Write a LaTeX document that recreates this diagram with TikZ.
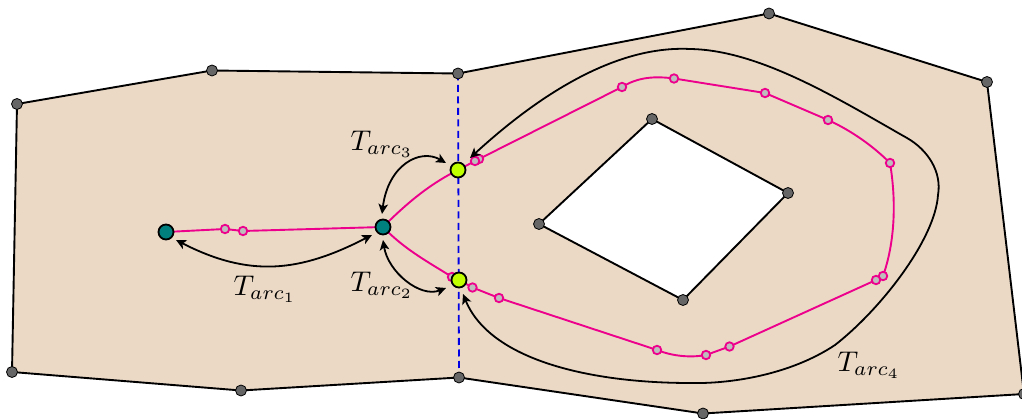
\documentclass[tikz,border=0pt]{standalone}
\usetikzlibrary{arrows.meta}
\definecolor{regionfill}{HTML}{EBD9C6}
\definecolor{vgray}{HTML}{666666}
\definecolor{arcpink}{HTML}{EC008C}
\definecolor{ptgray}{HTML}{BDBDBD}
\definecolor{tealdot}{HTML}{007F7F}
\definecolor{limedot}{HTML}{BFFF00}
\tikzset{
 vtx/.style={circle,draw=black,fill=vgray,line width=0.8pt,inner sep=0pt,minimum size=11pt},
 ctl/.style={circle,draw=arcpink,fill=ptgray,line width=1.8pt,inner sep=0pt,minimum size=8.5pt},
 teal/.style={circle,draw=black,fill=tealdot,line width=1.8pt,inner sep=0pt,minimum size=15pt},
 lime/.style={circle,draw=black,fill=limedot,line width=1.8pt,inner sep=0pt,minimum size=15pt},
 edgeline/.style={line width=1.9pt,black},
 arcline/.style={line width=1.9pt,arcpink},
 tarrow/.style={line width=1.8pt,black,>={Stealth[inset=2.5pt,length=10pt,width=9.5pt]}},
 lab/.style={scale=2.85,inner sep=0pt,text=black}
}
\begin{document}
\begin{tikzpicture}[x=1pt,y=-1pt]
\useasboundingbox (0,0) rectangle (1022,419);
% coordinates
\coordinate (o1) at (17,104); \coordinate (o2) at (212,70.5); \coordinate (o3) at (458,73.5);
\coordinate (o4) at (769,13.5); \coordinate (o5) at (987,82); \coordinate (o6) at (1024,394);
\coordinate (o7) at (703,413.5); \coordinate (o8) at (459,377.5); \coordinate (o9) at (241,390.5);
\coordinate (o10) at (12,372);
\coordinate (h1) at (652,119); \coordinate (h2) at (788,193); \coordinate (h3) at (683,300); \coordinate (h4) at (539,224);
% region with hole
\fill[regionfill,even odd rule] (o1)--(o2)--(o3)--(o4)--(o5)--(o6)--(o7)--(o8)--(o9)--(o10)--cycle
 (h1)--(h2)--(h3)--(h4)--cycle;
\draw[edgeline,line join=round] (o3)--(o4)--(o5)--(o6)--(o7)--(o8)--(o9)--(o10)--(o1)--(o2)--(o3);
\draw[edgeline,line join=round] (h1)--(h2)--(h3)--(h4)--cycle;
\draw[blue!90!black,line width=1.8pt,dash pattern=on 7pt off 4.5pt] (o3)--(o8);
% vertices
\foreach \n in {o1,o2,o3,o4,o5,o6,o7,o8,o9,o10,h1,h2,h3,h4} \node[vtx] at (\n) {};
% main points
\coordinate (A) at (166,232); \coordinate (B) at (383,227);
\coordinate (C) at (458,170); \coordinate (D) at (459,280);
% pink arcs
\coordinate (p1) at (225,229); \coordinate (p2) at (243,231);
\coordinate (q0) at (479,159); \coordinate (q00) at (475,161);
\coordinate (q1) at (622,87); \coordinate (q2) at (674,78.5); \coordinate (q3) at (765,93);
\coordinate (q4) at (828,120); \coordinate (q5) at (890,163); \coordinate (q6) at (883,276);
\coordinate (q7) at (876,280); \coordinate (q8) at (729.5,346.5); \coordinate (q9) at (706,355);
\coordinate (q10) at (657,350); \coordinate (q11) at (499,298); \coordinate (q12) at (472.5,287.5);
\coordinate (q13) at (452,277);
\draw[arcline] (A)--(p1)--(p2)--(B);
\draw[arcline] (B) .. controls (410,200) and (432,183) .. (C) -- (q00)--(q0)--(q1)
  .. controls (638,77) and (655,76) .. (q2) -- (q3) -- (q4)
  .. controls (850,130) and (872,145) .. (q5)
  .. controls (897,205) and (894,245) .. (q6) -- (q7) -- (q8) -- (q9)
  .. controls (690,358) and (672,356) .. (q10) -- (q11) -- (q12) -- (D)
  -- (q13) .. controls (430,263) and (405,250) .. (B);
\foreach \n in {p1,p2,q0,q00,q1,q2,q3,q4,q5,q6,q7,q8,q9,q10,q11,q12,q13} \node[ctl] at (\n) {};
\node[teal] (nA) at (A) {}; \node[teal] (nB) at (B) {};
\node[lime] (nC) at (C) {}; \node[lime] (nD) at (D) {};
% T arrows
\draw[tarrow,<->] (176,240) .. controls (250,278) and (300,272) .. (372,235);
\draw[tarrow,<->] (446,163) .. controls (420,148) and (388,165) .. (382,214);
\draw[tarrow,<->] (383,240) .. controls (388,272) and (420,298) .. (446,288);
\draw[tarrow,<->] (470,158) .. controls (530,103) and (610,45) .. (690,49)
 .. controls (760,50) and (840,100) .. (907,138)
 .. controls (928,150) and (942,172) .. (938,195)
 .. controls (935,240) and (880,310) .. (835,345)
 .. controls (790,375) and (730,384) .. (690,383)
 .. controls (590,383) and (490,360) .. (463,294);
% labels
\node[lab] (t1) at (265,289) {$T_{arc_1}$};
\node[lab] (t2) at (382,285) {$T_{arc_2}$};
\node[lab] (t3) at (382,144) {$T_{arc_3}$};
\node[lab] (t4) at (869,365) {$T_{arc_4}$};
\end{tikzpicture}
\end{document}
